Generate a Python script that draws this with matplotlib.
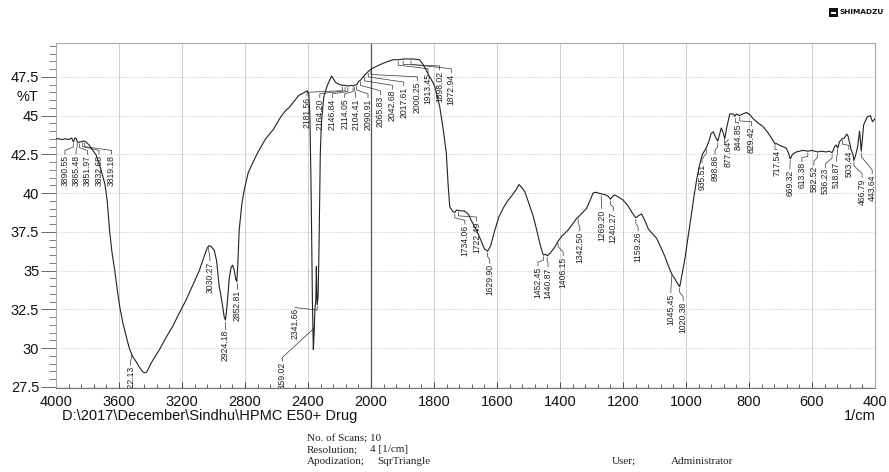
import numpy as np
import matplotlib
matplotlib.use("Agg")
import matplotlib.pyplot as plt
from matplotlib import font_manager
from matplotlib.patches import Rectangle

# ---- spectrum (wavenumber in 1/cm, transmittance in %T) ----
wavenumber = [
    4000, 3980, 3960, 3940, 3920, 3900, 3890, 3880, 3870, 3865, 3855, 3850, 3840, 3832, 3820, 3810,
    3790, 3770, 3745, 3720, 3690, 3675, 3660, 3645, 3627, 3610, 3596, 3575, 3553, 3535, 3522, 3510,
    3490, 3470, 3448, 3435, 3425, 3416, 3400, 3380, 3343, 3300, 3259, 3220, 3174, 3130, 3090, 3060,
    3040, 3030, 3015, 2995, 2980, 2964, 2945, 2932, 2924, 2915, 2900, 2888, 2879, 2868, 2858, 2852,
    2845, 2837, 2820, 2805, 2780, 2753, 2720, 2669, 2620, 2574, 2540, 2521, 2490, 2458, 2430, 2405,
    2395, 2388, 2380, 2372, 2366, 2362, 2356, 2350, 2347, 2344, 2341.66, 2336, 2330, 2322, 2315, 2300,
    2279, 2262, 2251, 2240, 2226, 2200, 2181, 2164, 2146, 2121, 2114, 2104, 2090, 2079, 2065, 2042,
    2017, 2000, 1980, 1962, 1945, 1930, 1913, 1898, 1880, 1867, 1846, 1835, 1824, 1814, 1805, 1798,
    1782, 1770, 1761, 1755, 1750, 1740, 1734, 1729, 1715, 1705, 1697, 1690, 1681, 1665, 1650, 1640,
    1630, 1620, 1607, 1595, 1581, 1566, 1554, 1540, 1530, 1521, 1512, 1500, 1485, 1475, 1464, 1455,
    1452, 1445, 1440, 1432, 1417, 1406, 1395, 1375, 1360, 1348, 1342, 1330, 1316, 1305, 1295, 1285,
    1279, 1269, 1260, 1253, 1245, 1240, 1232, 1226, 1215, 1200, 1185, 1173, 1165, 1159, 1150, 1141,
    1130, 1120, 1108, 1094, 1080, 1067, 1056, 1046, 1040, 1036, 1028, 1020, 1012, 1004, 996, 989,
    980, 973, 965, 957, 948, 936, 928, 920, 913, 906, 899, 893, 888, 882, 877, 870,
    861, 850, 845, 840, 830, 820, 808, 797, 787, 770, 756, 740, 724, 717, 714, 700,
    682, 675, 669, 662, 650, 640, 629, 613, 600, 582, 570, 555, 545, 536, 528, 523,
    518, 513, 505, 497, 490, 486, 480, 476, 470, 467, 462, 455, 449, 443.64, 436, 425,
    415, 408, 400,
]
transmittance = [
    43.50, 43.50, 43.45, 43.50, 43.45, 43.55, 43.30, 43.55, 43.50, 43.30, 43.25, 43.30, 43.30, 43.35, 43.35, 43.30,
    43.10, 42.80, 42.45, 41.70, 40.60, 39.50, 37.60, 36.20, 35.00, 33.70, 32.70, 31.60, 30.70, 30.00, 29.65, 29.40,
    29.10, 28.75, 28.45, 28.40, 28.45, 28.60, 28.95, 29.30, 29.90, 30.70, 31.40, 32.20, 33.10, 34.10, 35.00, 35.90,
    36.45, 36.60, 36.55, 36.30, 35.60, 34.00, 32.90, 32.00, 31.80, 32.60, 34.50, 35.20, 35.35, 35.00, 34.40, 34.30,
    35.50, 37.60, 39.30, 40.20, 41.30, 41.90, 42.60, 43.50, 44.10, 44.90, 45.35, 45.50, 45.90, 46.30, 46.45, 46.60,
    46.40, 45.00, 40.00, 33.00, 29.90, 30.80, 32.50, 33.20, 35.25, 33.50, 32.80, 33.30, 36.50, 42.50, 44.50, 46.20,
    46.90, 47.30, 47.55, 47.40, 47.15, 47.00, 46.95, 46.95, 46.90, 46.95, 46.90, 46.95, 47.00, 47.20, 47.30, 47.60,
    47.85, 48.00, 48.20, 48.37, 48.50, 48.60, 48.60, 48.65, 48.65, 48.65, 48.60, 48.30, 47.90, 47.50, 47.20, 46.90,
    45.60, 44.00, 42.60, 40.50, 39.10, 38.80, 38.75, 38.90, 38.85, 38.85, 38.75, 38.60, 38.20, 37.60, 36.90, 36.40,
    36.25, 36.60, 37.60, 38.40, 39.00, 39.50, 39.80, 40.20, 40.55, 40.35, 40.10, 39.40, 38.50, 37.70, 36.75, 36.10,
    36.00, 36.05, 35.95, 36.10, 36.50, 36.90, 37.20, 37.60, 38.00, 38.35, 38.45, 38.70, 39.00, 39.50, 40.00, 40.05,
    40.00, 39.95, 39.90, 39.87, 39.75, 39.60, 39.80, 39.87, 39.75, 39.55, 39.20, 38.80, 38.55, 38.40, 38.55, 38.65,
    38.20, 37.70, 37.40, 37.10, 36.50, 35.90, 35.30, 34.80, 34.60, 34.50, 34.20, 33.95, 34.80, 35.70, 36.80, 37.80,
    39.00, 40.00, 41.00, 41.80, 42.50, 42.90, 43.30, 43.85, 43.95, 43.60, 43.35, 43.80, 44.20, 43.90, 43.50, 44.30,
    45.10, 45.10, 44.95, 45.10, 45.00, 45.10, 45.20, 45.05, 44.80, 44.50, 44.30, 43.90, 43.40, 43.15, 43.20, 43.05,
    42.90, 42.60, 42.20, 42.50, 42.65, 42.70, 42.75, 42.70, 42.75, 42.65, 42.70, 42.65, 42.70, 42.60, 43.00, 43.10,
    42.90, 43.30, 43.50, 43.55, 43.80, 43.70, 43.20, 42.80, 42.50, 42.10, 42.40, 43.00, 44.00, 42.70, 44.40, 44.90,
    45.00, 44.60, 44.80,
]

# ---- peak labels: value, text position (1/cm) and text top (%T) ----
peak_values = [
    3890.55, 3865.48, 3851.97, 3832.68, 3819.18, 3522.13, 3030.27, 2924.18, 2852.81, 2359.02,
    2341.66, 2181.56, 2164.20, 2146.84, 2114.05, 2104.41, 2090.91, 2065.83, 2042.68, 2017.61,
    2000.25, 1913.45, 1898.02, 1872.94, 1734.06, 1722.49, 1629.90, 1452.45, 1440.87, 1406.15,
    1342.50, 1269.20, 1240.27, 1159.26, 1045.45, 1020.38, 935.51, 898.86, 877.64, 844.85,
    829.42, 717.54, 669.32, 613.38, 582.52, 536.23, 518.87, 503.44, 466.79, 443.64,
]
label_x = [
    3943, 3873, 3801, 3727, 3647, 3526, 3023, 2924, 2850, 2562,
    2484, 2406, 2325, 2245, 2167, 2097, 2019, 1970, 1932, 1896,
    1853, 1819, 1782, 1745, 1702, 1665, 1623, 1470, 1438, 1390,
    1337, 1268, 1231, 1152, 1048, 1009, 949, 908, 865, 834,
    792, 712, 670, 632, 594, 557, 522, 483, 441, 409,
]
label_top = [
    42.45, 42.45, 42.45, 42.45, 42.45, 28.84, 35.58, 31.16, 33.74, 29.10,
    32.56, 46.20, 46.10, 46.10, 46.10, 46.10, 46.10, 46.30, 46.65, 46.86,
    47.20, 47.72, 47.90, 47.72, 37.94, 38.15, 35.40, 35.25, 35.20, 35.90,
    37.50, 38.95, 38.80, 37.50, 33.50, 33.00, 41.90, 42.45, 43.40, 44.50,
    44.30, 42.77, 41.50, 42.00, 41.75, 41.60, 42.00, 42.77, 40.95, 41.20,
]

major_x = [4000, 3600, 3200, 2800, 2400, 2000, 1800, 1600, 1400, 1200, 1000, 800, 600, 400]
major_y = [27.5, 30, 32.5, 35, 37.5, 40, 42.5, 45, 47.5]

W, H = 889, 472
avail = {f.name for f in font_manager.fontManager.ttflist}
sans = "Liberation Sans" if "Liberation Sans" in avail else "DejaVu Sans"
narrow = "Liberation Sans Narrow" if "Liberation Sans Narrow" in avail else sans
serif = "Liberation Serif" if "Liberation Serif" in avail else "DejaVu Serif"
plt.rcParams["font.family"] = sans


def fwd(x):
    x = np.asarray(x, dtype=float)
    return np.where(x >= 2000, 2000 + (x - 2000) / 2.0, x)


def inv(y):
    y = np.asarray(y, dtype=float)
    return np.where(y >= 2000, 2000 + (y - 2000) * 2.0, y)


def fig_xy(px, py):
    return px / W, 1 - py / H


fig = plt.figure(figsize=(W / 100, H / 100), dpi=100)
ax = fig.add_axes([56 / W, 1 - 388 / H, 819 / W, 345.3 / H])
ax.set_xscale("function", functions=(fwd, inv))
ax.set_xlim(4000, 400)
ax.set_ylim(27.42, 49.70)

# grid
for xv in major_x:
    if xv == 2000:
        ax.axvline(xv, color="#555555", lw=0.9, zorder=1)
    else:
        ax.axvline(xv, color="#cfcfcf", lw=0.7, zorder=1)
for yv in major_y:
    ax.axhline(yv, color="#c8c8c8", lw=0.7, ls=(0, (1, 1.5)), zorder=1)

# spectrum
ax.plot(wavenumber, transmittance, color="#222222", lw=0.8, zorder=3)

# peak labels with leader lines
wn_inc = np.array(wavenumber)[::-1]
t_inc = np.array(transmittance)[::-1]
for val, lx, lt in zip(peak_values, label_x, label_top):
    tp = float(np.interp(val, wn_inc, t_inc))
    k1 = tp - 0.35
    k2 = max(lt + 0.05, min(lt + 0.3, k1))
    ax.plot([val, val, lx, lx], [tp - 0.12, k1, k2, lt + 0.05],
            color="#333333", lw=0.5, zorder=2, clip_on=True)
    ax.text(lx, lt, f"{val:.2f}", rotation=90, ha="center", va="top",
            fontsize=6.2, family=narrow, color="#222222", clip_on=True, zorder=4)

# ticks
ax.set_xticks(major_x)
ax.set_xticklabels([str(v) for v in major_x])
minor_x = [v for v in np.arange(4000, 2000, -80)] + [v for v in np.arange(2000, 399, -40)]
ax.set_xticks(minor_x, minor=True)
ax.set_yticks(major_y)
ax.set_yticklabels(["27.5", "30", "32.5", "35", "37.5", "40", "42.5", "45", "47.5"])
ax.set_yticks(np.arange(27.5, 49.75, 0.5), minor=True)
ax.tick_params(axis="x", which="major", direction="in", length=4, width=0.7,
               colors="#444444", labelcolor="#111111", labelsize=10.5, pad=5)
ax.tick_params(axis="x", which="minor", direction="in", length=3, width=0.6, colors="#444444")
ax.tick_params(axis="y", which="major", direction="out", length=11, width=0.7,
               colors="#666666", labelcolor="#111111", labelsize=10.5, pad=1)
ax.tick_params(axis="y", which="minor", direction="out", length=5, width=0.6, colors="#666666")
for side in ("left", "top", "right"):
    ax.spines[side].set_color("#aaaaaa")
    ax.spines[side].set_linewidth(0.8)
ax.spines["bottom"].set_color("#777777")
ax.spines["bottom"].set_linewidth(0.8)

# axis annotations
fig.text(*fig_xy(27, 97), "%T", ha="center", va="center", fontsize=10.5, color="#111111")
fig.text(*fig_xy(62, 416), "D:\\2017\\December\\Sindhu\\HPMC E50+ Drug",
         ha="left", va="center", fontsize=10.5, color="#111111")
fig.text(*fig_xy(876, 416), "1/cm", ha="right", va="center", fontsize=10.5, color="#111111")

# acquisition parameters
info = dict(fontsize=8, family=serif, color="#222222", va="center", ha="left")
fig.text(*fig_xy(307, 439), "No. of Scans; 10", **info)
fig.text(*fig_xy(307, 450), "Resolution;", **info)
fig.text(*fig_xy(370, 450), "4 [1/cm]", **info)
fig.text(*fig_xy(307, 461), "Apodization;", **info)
fig.text(*fig_xy(377, 461), "SqrTriangle", **info)
fig.text(*fig_xy(612, 461), "User;", **info)
fig.text(*fig_xy(671, 461), "Administrator", **info)

# manufacturer mark
x0, y0 = fig_xy(829, 17)
fig.patches.append(Rectangle((x0, y0), 9 / W, 9 / H, transform=fig.transFigure,
                             facecolor="#111111", edgecolor="none"))
x1, y1 = fig_xy(831, 13.5)
fig.patches.append(Rectangle((x1, y1), 5 / W, 1.5 / H, transform=fig.transFigure,
                             facecolor="white", edgecolor="none"))
fig.text(*fig_xy(884, 12.5), "SHIMADZU", ha="right", va="center", fontsize=5.3,
         fontweight="bold", family="DejaVu Sans", color="#111111")

fig.savefig("out.png", dpi=100)
